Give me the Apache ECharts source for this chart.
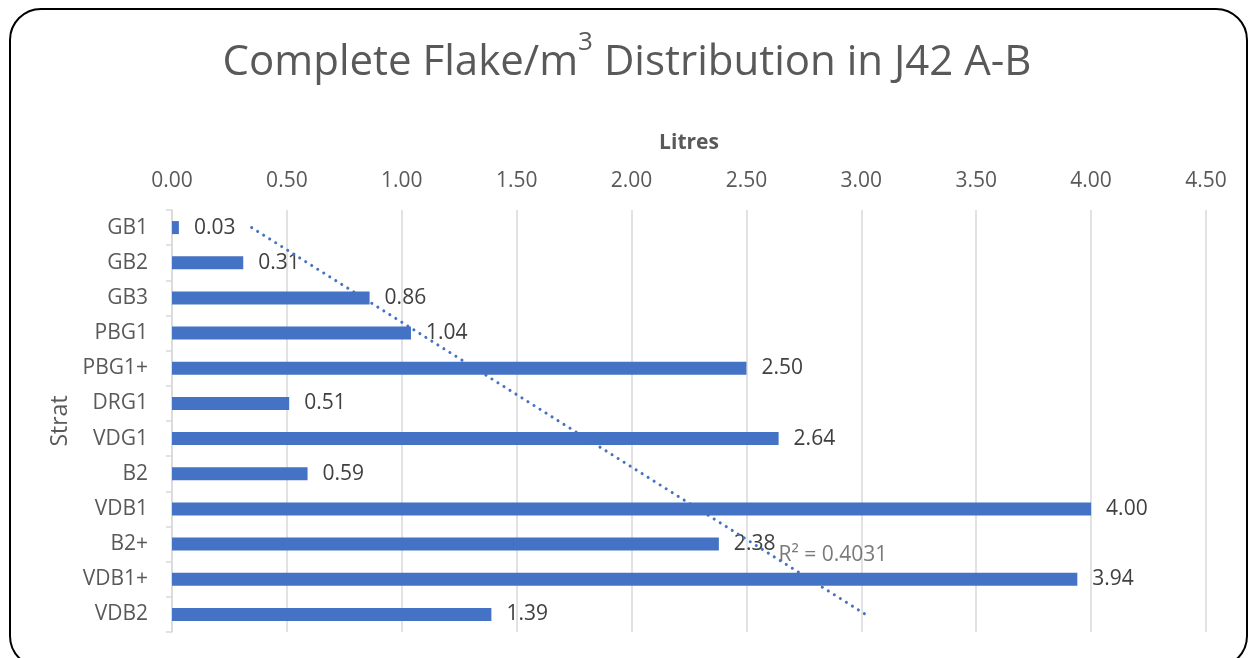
<!DOCTYPE html>
<html>
<head>
<meta charset="utf-8">
<script src="https://cdn.jsdelivr.net/npm/echarts@6/dist/echarts.min.js"></script>
<style>
html,body{margin:0;padding:0;background:#fff;overflow:hidden;}
#frame{position:absolute;left:9px;top:8px;width:1239px;height:660px;border:2px solid #000;border-radius:32px;box-sizing:border-box;}
#chart{position:absolute;left:0;top:0;width:1254px;height:658px;}
</style>
</head>
<body>
<div id="frame"></div>
<div id="chart"></div>
<script>
const categories = ['GB1','GB2','GB3','PBG1','PBG1+','DRG1','VDG1','B2','VDB1','B2+','VDB1+','VDB2'];
const values = [0.03,0.31,0.86,1.04,2.50,0.51,2.64,0.59,4.00,2.38,3.94,1.39];
const xTicks = [0,0.5,1,1.5,2,2.5,3,3.5,4,4.5];
const r2Text = 'R² = 0.4031';

// linear trendline (value vs category index), as in the spreadsheet
const n = values.length;
let sx=0, sy=0, sxy=0, sxx=0;
values.forEach((v,i)=>{const x=i+1; sx+=x; sy+=v; sxy+=x*v; sxx+=x*x;});
const slope = (n*sxy - sx*sy)/(n*sxx - sx*sx);
const intercept = (sy - slope*sx)/n;
const trend = [[intercept+slope*1, categories[0]], [intercept+slope*n, categories[n-1]]];

const FONT = 'Open Sans';
const chart = echarts.init(document.getElementById('chart'));
chart.setOption({
  animation:false,
  textStyle:{fontFamily:FONT},
  title:{
    text:'{a|Complete Flake/m}{s|3}{a| Distribution in J42 A-B}',
    left:'center', top:25,
    textStyle:{fontWeight:'normal',rich:{
      a:{fontSize:42,color:'#595959',fontFamily:FONT,fontWeight:'normal',verticalAlign:'bottom',lineHeight:54},
      s:{fontSize:26,color:'#595959',fontFamily:FONT,fontWeight:'normal',verticalAlign:'top',padding:[0,0,24,0],lineHeight:54}
    }}
  },
  grid:{left:172,right:48,top:210,bottom:26},
  xAxis:{
    type:'value', position:'top', min:0, max:4.5, interval:0.5,
    name:'Litres', nameLocation:'middle', nameGap:56,
    nameTextStyle:{fontSize:21,fontWeight:'bold',color:'#595959',fontFamily:FONT},
    axisLine:{show:false}, axisTick:{show:false},
    axisLabel:{fontSize:21,color:'#595959',margin:18,formatter:v=>v.toFixed(2)},
    splitLine:{lineStyle:{color:'#d9d9d9',width:1.5}}
  },
  yAxis:{
    type:'category', data:categories, inverse:true,
    name:'Strat', nameLocation:'middle', nameGap:98, nameRotate:90,
    nameTextStyle:{fontSize:23,color:'#595959',fontFamily:FONT},
    axisLine:{lineStyle:{color:'#d9d9d9',width:1.5}},
    axisTick:{show:true,length:6,lineStyle:{color:'#d9d9d9',width:1.5}},
    axisLabel:{fontSize:21,color:'#595959',margin:24}
  },
  series:[
    {
      type:'bar', data:values, barWidth:13,
      itemStyle:{color:'#4472C4'},
      label:{show:true,position:'right',distance:15,fontSize:21,color:'#404040',formatter:p=>p.value.toFixed(2)}
    },
    {
      type:'line', data:trend, symbol:'none', z:5,
      lineStyle:{color:'#4472C4',width:3,type:[0.1,7],cap:'round'}
    },
    {
      type:'scatter', data:[[2.64, categories[9]]], symbolSize:0,
      label:{show:true,position:'right',distance:0,offset:[0,11],formatter:r2Text,fontSize:21,color:'#595959'}
    }
  ]
});
</script>
</body>
</html>
